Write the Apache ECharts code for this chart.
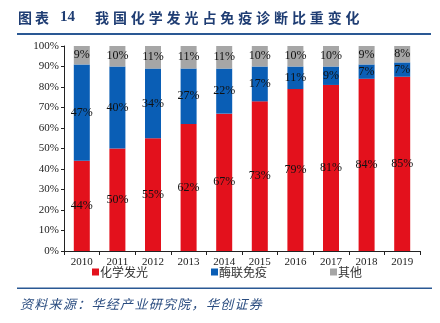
<!DOCTYPE html>
<html><head><meta charset="utf-8">
<script src="https://cdn.jsdelivr.net/npm/echarts@6/dist/echarts.min.js"></script>
<style>html,body{margin:0;padding:0;background:#fff}#c{width:440px;height:323px}</style>
</head><body><div id="c"></div>
<script>
const years = ['2010','2011','2012','2013','2014','2015','2016','2017','2018','2019'];
const chemi = [44,50,55,62,67,73,79,81,84,85];
const elisa = [47,40,34,27,22,17,11,9,7,7];
const other = [9,10,11,11,11,10,10,10,9,8];
const seriesNames = ['化学发光','酶联免疫','其他'];
const titleHead = '图表';
const titleNum = '14';
const titleText = '我国化学发光占免疫诊断比重变化';
const sourceText = '资料来源：华经产业研究院，华创证券';
const colors = ['#e3111c','#0a5eb5','#a6a6a6'];
const serif = '"Liberation Serif","Times New Roman",serif';
const cjk = '"Noto Sans CJK SC",sans-serif';
const chart = echarts.init(document.getElementById('c'), null, {renderer:'canvas'});
function mk(name, data, color){
  return {name, type:'bar', stack:'t', data, barWidth:16,
    itemStyle:{color},
    label:{show:true, position:'inside', formatter:'{c}%', color:'#111', fontSize:12, fontFamily:serif}};
}
const graphic = [];
// title, spaced characters
Array.from(titleHead).forEach((ch,i)=>graphic.push({type:'text', left:18+i*17, top:11,
  style:{text:ch, fill:'#1f3d73', font:'bold 14px '+cjk}}));
graphic.push({type:'text', left:60, top:10, style:{text:titleNum, fill:'#1f3d73', font:'bold 15px '+serif}});
Array.from(titleText).forEach((ch,i)=>graphic.push({type:'text', left:95+i*17.9, top:11,
  style:{text:ch, fill:'#1f3d73', font:'bold 14px '+cjk}}));
graphic.push({type:'rect', shape:{x:17, y:33, width:414, height:2}, style:{fill:'#2a5894'}});
graphic.push({type:'rect', shape:{x:17, y:287.5, width:415, height:1.5}, style:{fill:'#2a5894'}});
Array.from(sourceText).forEach((ch,i)=>graphic.push({type:'text', left:20+i*14.3, top:298,
  style:{text:ch, fill:'#2b4d80', font:'italic 13px '+cjk}}));
chart.setOption({
  animation:false,
  color: colors,
  grid:{left:64, right:20, top:46, bottom:72},
  graphic,
  legend:{left:92, top:266, padding:0, itemWidth:7, itemHeight:7, icon:'rect', itemGap:63,
    textStyle:{fontSize:12, color:'#333', fontFamily:cjk, padding:[0,0,0,-4]}, data:seriesNames},
  xAxis:{type:'category', data:years,
    axisLine:{lineStyle:{color:'#222'}},
    axisTick:{show:true, alignWithLabel:false, length:4, lineStyle:{color:'#222'}},
    axisLabel:{color:'#222', fontSize:11, fontFamily:serif, margin:6}},
  yAxis:{type:'value', min:0, max:100, interval:10,
    axisLine:{show:true, lineStyle:{color:'#222'}},
    axisTick:{show:true, length:3, lineStyle:{color:'#222'}},
    splitLine:{show:false},
    axisLabel:{formatter:'{value}%', color:'#222', fontSize:11, fontFamily:serif, margin:5}},
  series:[mk(seriesNames[0], chemi, colors[0]), mk(seriesNames[1], elisa, colors[1]), mk(seriesNames[2], other, colors[2])]
});
</script></body></html>
